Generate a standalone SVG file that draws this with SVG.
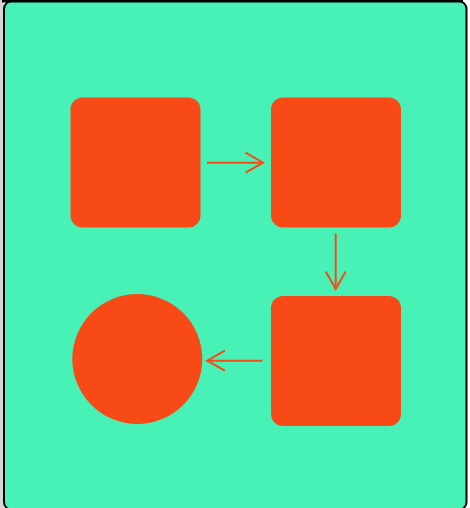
<svg xmlns="http://www.w3.org/2000/svg" width="470" height="508" viewBox="0 0 470 508">
  <defs>
    <style>
      .node { fill: #f84a16; }
      .edge { fill: none; stroke: #f84a16; stroke-width: 2; }
    </style>
    <marker id="chev" markerUnits="userSpaceOnUse" viewBox="-20 -20 40 40" markerWidth="40" markerHeight="40" refX="0" refY="0" orient="auto" overflow="visible">
      <path d="M-17.5,-10 L0,0 L-17.5,10" fill="none" stroke="#f84a16" stroke-width="2"/>
    </marker>
  </defs>
  <rect x="0" y="0" width="470" height="508" fill="#ffffff"/>
  <rect x="0" y="0" width="4" height="508" fill="#d6d6d6"/>
  <rect id="frame" x="4" y="1" width="462.5" height="509" rx="8" fill="#48f2b6" stroke="#000000" stroke-width="2"/>
  <rect x="2" y="0" width="461" height="2.5" fill="#000000"/>
  <g id="node-1"><rect class="node" x="70.5" y="97.5" width="130" height="130" rx="12"/></g>
  <g id="node-2"><rect class="node" x="271" y="97.5" width="130" height="130" rx="12"/></g>
  <g id="node-3"><rect class="node" x="271" y="296" width="130" height="130" rx="12"/></g>
  <g id="node-4"><circle class="node" cx="137.3" cy="359" r="65"/></g>
  <g id="connectors">
    <path class="edge" d="M207,162.7 L263,162.7" marker-end="url(#chev)"/>
    <path class="edge" d="M335.7,233.5 L335.7,289" marker-end="url(#chev)"/>
    <path class="edge" d="M262.5,360.7 L207.3,360.7" marker-end="url(#chev)"/>
  </g>
</svg>
